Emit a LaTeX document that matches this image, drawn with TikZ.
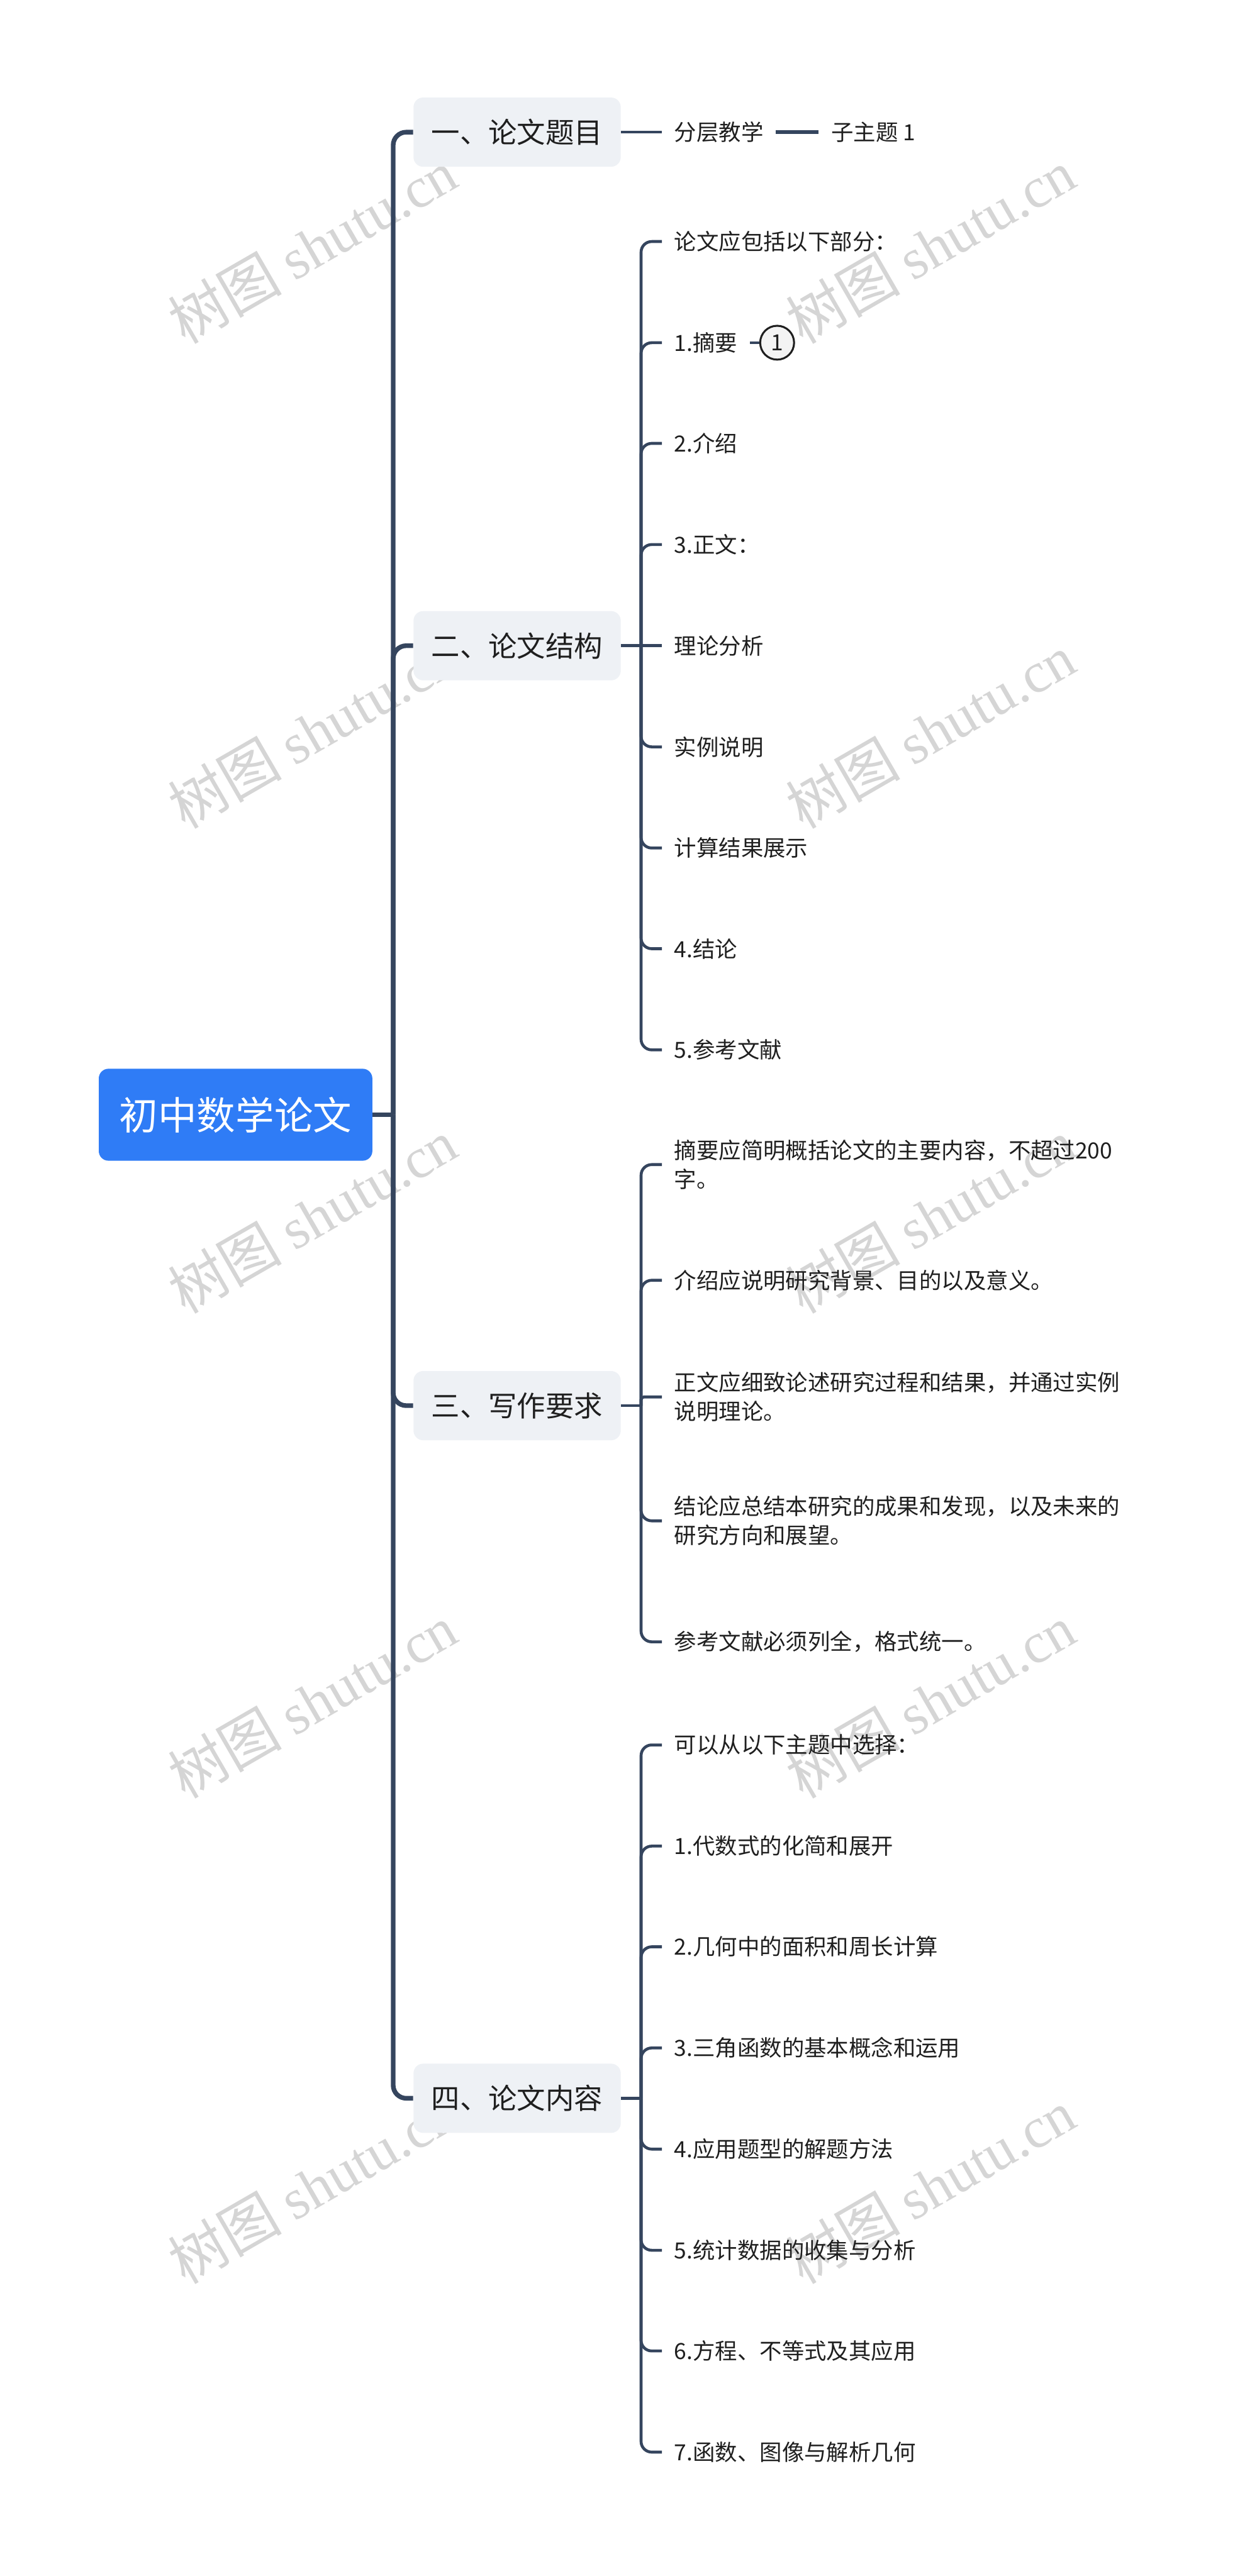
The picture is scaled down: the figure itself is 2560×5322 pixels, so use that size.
\documentclass[tikz,border=0pt]{standalone}
\usepackage{fontspec}
\setmainfont{Noto Sans CJK SC}
\newfontfamily\wmlatin{Liberation Serif}
\definecolor{lc}{HTML}{35455E}
\definecolor{rootblue}{HTML}{2F7CF6}
\definecolor{boxgray}{HTML}{EEF1F5}
\definecolor{txt}{HTML}{1F1F1F}
\definecolor{wmgray}{HTML}{D5D5D5}
\definecolor{circfill}{HTML}{F3F3F3}
\begin{document}
\begin{tikzpicture}[x=0.25pt,y=-0.25pt,
  wm/.style={text=wmgray,rotate=30,inner sep=0pt,font=\fontsize{29.5}{31}\selectfont},
  rootbox/.style={fill=rootblue,text=white,rounded corners=5pt,minimum width=141.25pt,minimum height=47.5pt,inner sep=0pt,font=\fontsize{20}{24}\selectfont},
  lonebox/.style={fill=boxgray,text=txt,rounded corners=5pt,minimum width=107pt,minimum height=35.75pt,inner sep=0pt,font=\fontsize{14.75}{18}\selectfont},
  leaf/.style={anchor=west,inner xsep=6.25pt,inner ysep=1pt,align=left,text=txt,font=\fontsize{11.5}{15}\selectfont},
  trunk/.style={draw=lc,line width=2.4pt},
  sub/.style={draw=lc,line width=1.5pt},
  numcirc/.style={circle,draw=txt,fill=circfill,line width=1pt,minimum size=17.5pt,inner sep=0pt,text=txt,font=\fontsize{11.5}{13}\selectfont}
]
\useasboundingbox (0,0) rectangle (2560,5322);
\fill[white] (0,0) rectangle (2560,5322);

% watermarks
\foreach \y in {509,1511,2513,3515,4517}{
  \node[wm] (wmL\y) at (645,\y) {树图 {\wmlatin shutu.cn}};
  \node[wm] (wmR\y) at (1922,\y) {树图 {\wmlatin shutu.cn}};
}

% root and level-1
\node[rootbox] (root) at (486.5,2303) {初中数学论文};
\node[lonebox] (b1) at (1068,273) {一、论文题目};
\node[lonebox] (b2) at (1068,1334) {二、论文结构};
\node[lonebox] (b3) at (1068,2904) {三、写作要求};
\node[lonebox] (b4) at (1068,4335) {四、论文内容};

% branch 1
\node[leaf] (l1a) at (1367,273) {分层教学};
\node[leaf] (l1b) at (1691,273) {子主题 1};

% branch 2
\node[leaf] (l2a) at (1367,499) {论文应包括以下部分：};
\node[leaf] (l2b) at (1367,708) {1.摘要};
\node[leaf] (l2c) at (1367,916) {2.介绍};
\node[leaf] (l2d) at (1367,1125) {3.正文：};
\node[leaf] (l2e) at (1367,1334) {理论分析};
\node[leaf] (l2f) at (1367,1543) {实例说明};
\node[leaf] (l2g) at (1367,1752) {计算结果展示};
\node[leaf] (l2h) at (1367,1960) {4.结论};
\node[leaf] (l2i) at (1367,2169) {5.参考文献};
\node[numcirc] (c1) at (1605,708) {1};

% branch 3
\node[leaf] (l3a) at (1367,2406) {摘要应简明概括论文的主要内容，不超过200\\字。};
\node[leaf] (l3b) at (1367,2645) {介绍应说明研究背景、目的以及意义。};
\node[leaf] (l3c) at (1367,2886) {正文应细致论述研究过程和结果，并通过实例\\说明理论。};
\node[leaf] (l3d) at (1367,3142) {结论应总结本研究的成果和发现，以及未来的\\研究方向和展望。};
\node[leaf] (l3e) at (1367,3392) {参考文献必须列全，格式统一。};

% branch 4
\node[leaf] (l4a) at (1367,3605) {可以从以下主题中选择：};
\node[leaf] (l4b) at (1367,3814) {1.代数式的化简和展开};
\node[leaf] (l4c) at (1367,4022) {2.几何中的面积和周长计算};
\node[leaf] (l4d) at (1367,4231) {3.三角函数的基本概念和运用};
\node[leaf] (l4e) at (1367,4440) {4.应用题型的解题方法};
\node[leaf] (l4f) at (1367,4649) {5.统计数据的收集与分析};
\node[leaf] (l4g) at (1367,4857) {6.方程、不等式及其应用};
\node[leaf] (l4h) at (1367,5066) {7.函数、图像与解析几何};

% trunk connectors
\coordinate (tj) at (812,2303);
\draw[trunk] (root.east) -- (tj);
\foreach \b in {b1,b2,b3,b4}
  \draw[trunk,rounded corners=6.75pt] (tj) |- (\b.west);

% branch 1 connectors
\draw[sub] (b1.east) -- (l1a.west);
\draw[draw=lc,line width=1.75pt] (l1a.east) -- (l1b.west);

% branch 2 connectors
\coordinate (j2) at (1324,1334);
\draw[sub] (b2.east) -- (j2);
\foreach \n in {a,b,c,d,f,g,h,i}
  \draw[sub,rounded corners=5.5pt] (j2) |- (l2\n.west);
\draw[sub] (j2) -- (l2e.west);
\draw[sub] (l2b.east) -- (c1.west);

% branch 3 connectors
\coordinate (j3) at (1324,2904);
\draw[sub] (b3.east) -- (j3);
\foreach \n in {a,b,d,e}
  \draw[sub,rounded corners=5.5pt] (j3) |- (l3\n.west);
\draw[sub,rounded corners=1.5pt] (j3) |- (l3c.west);

% branch 4 connectors
\coordinate (j4) at (1324,4335);
\draw[sub] (b4.east) -- (j4);
\foreach \n in {a,b,c,d,e,f,g,h}
  \draw[sub,rounded corners=5.5pt] (j4) |- (l4\n.west);
\end{tikzpicture}
\end{document}
